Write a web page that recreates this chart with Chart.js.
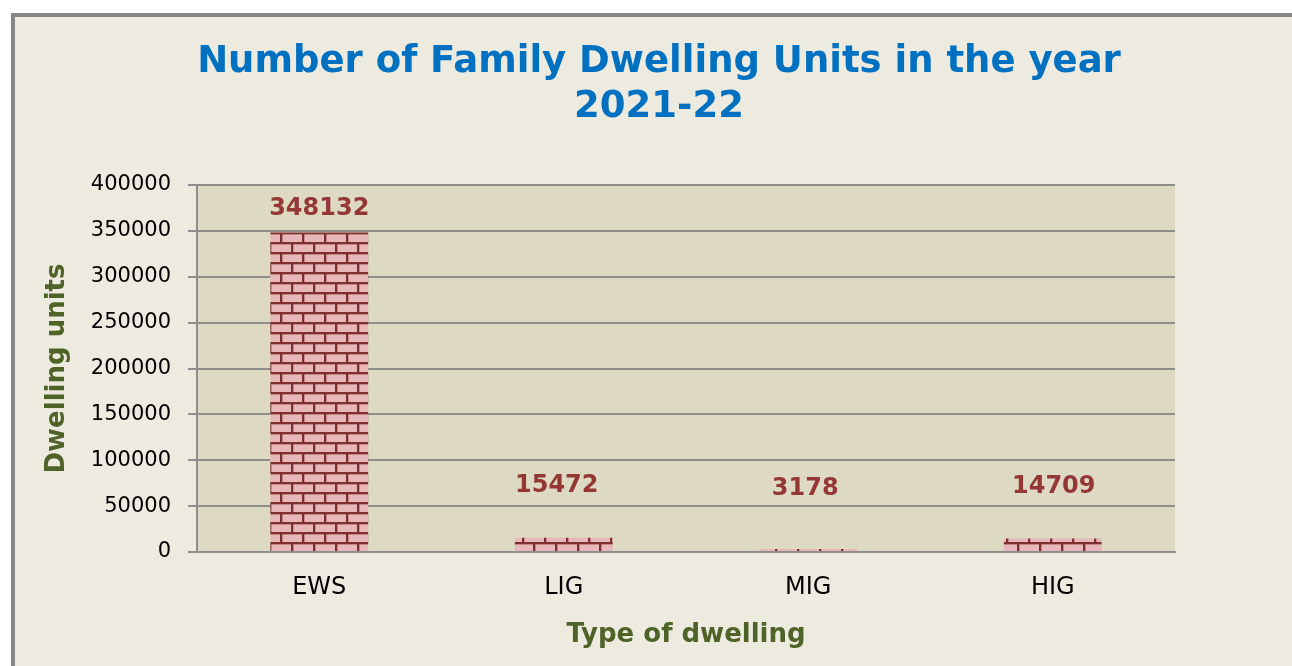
<!DOCTYPE html>
<html>
<head>
<meta charset="utf-8">
<script src="https://cdn.jsdelivr.net/npm/chart.js@4.4.1/dist/chart.umd.min.js"></script>
<style>
    html, body { margin: 0; padding: 0; background: #ffffff; }
    canvas { display: block; }
</style>
</head>
<body>
<canvas id="dwellingChart" width="1292" height="666"></canvas>
<script>
// Data
const dwellingTypes = ['EWS', 'LIG', 'MIG', 'HIG'];
const dwellingUnits = [348132, 15472, 3178, 14709];
const titleLines = ['Number of Family Dwelling Units in the year', '2021-22'];
const yAxisMax = 400000;
const yAxisStep = 50000;

// Label placement (px above bar top to text baseline, and small x nudges)
const labelLift = [18, 46, 54, 46];
const labelNudge = [0, -7, -3, 1];

const FONT = "'DejaVu Sans', Verdana, sans-serif";
const GRID = '#8e8e8e';

/**
 * Brick fill used by the bars
 */
function makeBrickPattern() {
    const tile = document.createElement('canvas');
    tile.width = 22;
    tile.height = 20;
    const c = tile.getContext('2d');
    c.fillStyle = '#e8b7b9';
    c.fillRect(0, 0, 22, 20);
    c.fillStyle = '#7e2f30';
    // horizontal mortar
    c.fillRect(0, 0, 22, 2);
    c.fillRect(0, 10, 22, 2);
    // vertical mortar, offset each row
    c.fillRect(0, 0, 2, 10);
    c.fillRect(11, 10, 2, 10);
    // soft edge under mortar
    c.fillStyle = 'rgba(126, 47, 48, 0.35)';
    c.fillRect(0, 2, 22, 1);
    c.fillRect(0, 12, 22, 1);
    c.fillRect(2, 2, 1, 8);
    c.fillRect(13, 12, 1, 8);
    const ctx = document.getElementById('dwellingChart').getContext('2d');
    const pattern = ctx.createPattern(tile, 'repeat');
    // line the mortar rows up with the baseline of the plot
    pattern.setTransform(new DOMMatrix().translate(5, 2));
    return pattern;
}

// Frame, panel and plot-area backgrounds plus the title
const framePlugin = {
    id: 'frame',
    beforeDraw(chart) {
        const { ctx, chartArea: a } = chart;
        ctx.save();
        ctx.fillStyle = '#ffffff';
        ctx.fillRect(0, 0, chart.width, chart.height);
        ctx.fillStyle = '#878787';
        ctx.fillRect(11, 13, chart.width, chart.height);
        ctx.fillStyle = '#edeae0';
        ctx.fillRect(15, 17, chart.width, chart.height);
        ctx.fillStyle = '#ddd9c3';
        ctx.fillRect(a.left, a.top, a.right - a.left, a.bottom - a.top);

        ctx.fillStyle = '#0070c0';
        ctx.font = `bold 37px ${FONT}`;
        ctx.textAlign = 'center';
        ctx.textBaseline = 'alphabetic';
        ctx.fillText(titleLines[0], 659, 72);
        ctx.fillText(titleLines[1], 659, 117);
        ctx.restore();
    }
};

// Value labels above each bar
const valueLabelPlugin = {
    id: 'valueLabels',
    afterDatasetsDraw(chart) {
        const { ctx } = chart;
        const meta = chart.getDatasetMeta(0);
        ctx.save();
        ctx.fillStyle = '#953735';
        ctx.font = `bold 24px ${FONT}`;
        ctx.textAlign = 'center';
        ctx.textBaseline = 'alphabetic';
        meta.data.forEach((bar, i) => {
            ctx.fillText(String(dwellingUnits[i]), bar.x + labelNudge[i], bar.y - labelLift[i]);
        });
        ctx.restore();
    }
};

new Chart(document.getElementById('dwellingChart'), {
    type: 'bar',
    data: {
        labels: dwellingTypes,
        datasets: [{
            label: 'Dwelling units',
            data: dwellingUnits,
            backgroundColor: makeBrickPattern(),
            borderWidth: 0,
            barPercentage: 0.4,
            categoryPercentage: 1.0,
        }]
    },
    options: {
        responsive: false,
        devicePixelRatio: 1,
        animation: false,
        layout: {
            padding: { top: 185, right: 117, bottom: 0, left: 0 }
        },
        plugins: {
            legend: { display: false },
            title: { display: false },
            tooltip: { enabled: false }
        },
        scales: {
            x: {
                grid: { display: false, drawTicks: false, tickLength: 0 },
                border: { display: true, color: GRID, width: 2 },
                ticks: {
                    color: '#000000',
                    font: { family: FONT, size: 24 },
                    padding: 21
                },
                title: {
                    display: true,
                    text: 'Type of dwelling',
                    color: '#4f6228',
                    font: { family: FONT, size: 26, weight: 'bold' },
                    padding: { top: 0, bottom: 15 }
                },
                afterFit: (scale) => { scale.height = 114; }
            },
            y: {
                min: 0,
                max: yAxisMax,
                ticks: {
                    stepSize: yAxisStep,
                    color: '#000000',
                    font: { family: FONT, size: 21 },
                    padding: 17,
                    callback: (v) => String(v)
                },
                grid: {
                    color: GRID,
                    lineWidth: 2,
                    drawTicks: true,
                    tickLength: 9,
                    tickColor: GRID
                },
                border: { display: true, color: GRID, width: 2 },
                title: {
                    display: true,
                    text: 'Dwelling units',
                    color: '#4f6228',
                    font: { family: FONT, size: 26, weight: 'bold' },
                    padding: { top: 42, bottom: 0 }
                },
                afterFit: (scale) => { scale.width = 197; }
            }
        }
    },
    plugins: [framePlugin, valueLabelPlugin]
});
</script>
</body>
</html>
